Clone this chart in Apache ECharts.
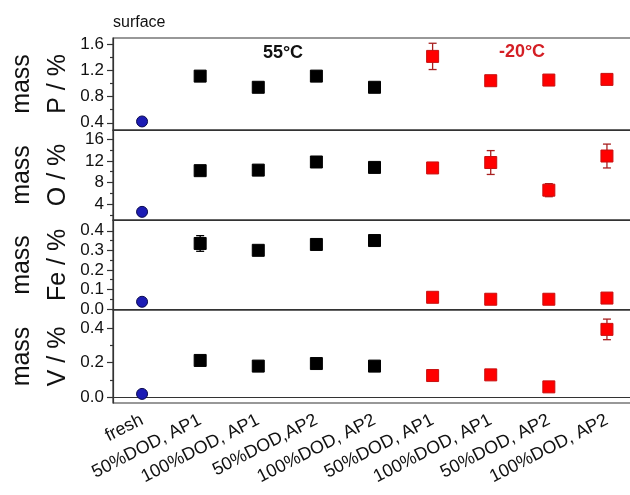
<!DOCTYPE html>
<html>
<head>
<meta charset="utf-8">
<script src="https://cdn.jsdelivr.net/npm/echarts@6/dist/echarts.min.js"></script>
<style>
  html, body { margin: 0; padding: 0; background: #fff; }
  #chart { width: 630px; height: 495px; }
</style>
</head>
<body>
<div id="chart"></div>
<script>
// 样品类别
const categories = ['fresh', '50%DOD, AP1', '100%DOD, AP1', '50%DOD,AP2', '100%DOD, AP2',
    '50%DOD, AP1', '100%DOD, AP1', '50%DOD, AP2', '100%DOD, AP2'];

// 各元素质量分数 (fresh, 55°C x4, -20°C x4)
const pValues = [0.42, 1.11, 0.94, 1.11, 0.94, 1.41, 1.04, 1.05, 1.06];
const pErrors = [0.02, 0.06, 0.02, 0.04, 0.02, 0.20, 0.02, 0.02, 0.02];
const oValues = [2.6, 10.2, 10.3, 11.8, 10.8, 10.7, 11.7, 6.6, 12.9];
const oErrors = [0.4, 0.5, 0.3, 0.4, 0.3, 0.8, 2.2, 1.2, 2.2];
const feValues = [0.037, 0.335, 0.30, 0.33, 0.35, 0.06, 0.05, 0.05, 0.056];
const feErrors = [0.01, 0.04, 0.01, 0.01, 0.01, 0.015, 0.01, 0.01, 0.01];
const vValues = [0.018, 0.213, 0.18, 0.195, 0.18, 0.125, 0.129, 0.059, 0.394];
const vErrors = [0.01, 0.02, 0.01, 0.01, 0.01, 0.01, 0.01, 0.01, 0.06];

// 刻度
const pTicks = [0.4, 0.8, 1.2, 1.6];
const pMinor = [0.6, 1.0, 1.4];
const oTicks = [4, 8, 12, 16];
const oMinor = [2, 6, 10, 14];
const feTicks = [0.0, 0.1, 0.2, 0.3, 0.4];
const feMinor = [0.05, 0.15, 0.25, 0.35];
const vTicks = [0.0, 0.2, 0.4];
const vMinor = [0.1, 0.3];

const FONT = '"Liberation Sans", Arial, sans-serif';
const AXIS_COLOR = '#333';

document.addEventListener('DOMContentLoaded', function () {
    initChart();
});

function initChart() {
    const chartDom = document.getElementById('chart');
    const myChart = echarts.init(chartDom);

    const panels = [
        { name: 'mass\nP / %', values: pValues, errors: pErrors, ticks: pTicks, minor: pMinor, min: 0.29, max: 1.69, top: 38, height: 92, fmt: v => v.toFixed(1) },
        { name: 'mass\nO / %', values: oValues, errors: oErrors, ticks: oTicks, minor: oMinor, min: 1.1, max: 17.7, top: 130, height: 90, fmt: v => String(v) },
        { name: 'mass\nFe / %', values: feValues, errors: feErrors, ticks: feTicks, minor: feMinor, min: -0.005, max: 0.455, top: 220, height: 90, fmt: v => v.toFixed(1) },
        { name: 'mass\nV / %', values: vValues, errors: vErrors, ticks: vTicks, minor: vMinor, min: -0.035, max: 0.507, top: 310, height: 93, fmt: v => v.toFixed(1) }
    ];

    const groups = [
        { idx: [0], symbol: 'circle', size: 11, color: '#1c1cb4', border: '#0a0a50', err: '#0a0a50' },
        { idx: [1, 2, 3, 4], symbol: 'rect', size: 12, color: '#000', border: '#000', err: '#000' },
        { idx: [5, 6, 7, 8], symbol: 'rect', size: 12, color: '#ff0000', border: '#c81010', err: '#a82020' }
    ];

    const grid = [], xAxis = [], yAxis = [], series = [];

    panels.forEach(function (p, k) {
        grid.push({
            left: 113, right: -6, top: p.top, height: p.height,
            show: true, borderColor: AXIS_COLOR, borderWidth: 1.2,
            outerBoundsMode: 'none'
        });
        // 主刻度 x 轴
        xAxis.push({
            type: 'category', gridIndex: k, data: categories, position: 'bottom',
            axisLine: { lineStyle: { color: AXIS_COLOR, width: 1.2 } },
            axisTick: { alignWithLabel: true, length: 5, lineStyle: { color: AXIS_COLOR, width: 1.2 } },
            axisLabel: {
                show: k === 3, rotate: 27, margin: 16, interval: 0,
                fontSize: 18, fontFamily: FONT, color: '#111'
            },
            splitLine: { show: false }
        });
        // 次刻度 x 轴
        xAxis.push({
            type: 'category', gridIndex: k, data: categories, position: 'bottom',
            axisLine: { show: false },
            axisTick: { length: 3, lineStyle: { color: AXIS_COLOR, width: 1.2 } },
            axisLabel: { show: false },
            splitLine: { show: false }
        });
        yAxis.push({
            type: 'value', gridIndex: k, position: 'left', min: p.min, max: p.max,
            name: p.name, nameLocation: 'middle', nameRotate: 90, nameGap: 37,
            nameMoveOverlap: false,
            nameTextStyle: { fontSize: 25, lineHeight: 36, fontFamily: FONT, color: '#111' },
            axisLine: { show: true, lineStyle: { color: AXIS_COLOR, width: 1.2 } },
            axisTick: { show: true, length: 6, customValues: p.ticks, lineStyle: { color: AXIS_COLOR, width: 1.2 } },
            axisLabel: {
                customValues: p.ticks, formatter: p.fmt, margin: 9,
                fontSize: 17, fontFamily: FONT, color: '#111'
            },
            splitLine: { show: false }
        });
        yAxis.push({
            type: 'value', gridIndex: k, position: 'left', min: p.min, max: p.max,
            axisLine: { show: false },
            axisTick: { show: true, length: 3, customValues: p.minor, lineStyle: { color: AXIS_COLOR, width: 1.2 } },
            axisLabel: { show: false },
            splitLine: { show: false }
        });

        groups.forEach(function (g) {
            // 误差棒
            series.push({
                type: 'custom', xAxisIndex: 2 * k, yAxisIndex: 2 * k, z: 2,
                data: g.idx.map(i => [i, p.values[i], p.errors[i]]),
                renderItem: function (params, api) {
                    const x = api.value(0), y = api.value(1), e = api.value(2);
                    const t = api.coord([x, y + e]);
                    const b = api.coord([x, y - e]);
                    const hw = 4;
                    const st = { stroke: g.err, lineWidth: 1.3 };
                    return {
                        type: 'group', children: [
                            { type: 'line', shape: { x1: t[0], y1: t[1], x2: b[0], y2: b[1] }, style: st },
                            { type: 'line', shape: { x1: t[0] - hw, y1: t[1], x2: t[0] + hw, y2: t[1] }, style: st },
                            { type: 'line', shape: { x1: b[0] - hw, y1: b[1], x2: b[0] + hw, y2: b[1] }, style: st }
                        ]
                    };
                }
            });
            series.push({
                type: 'scatter', xAxisIndex: 2 * k, yAxisIndex: 2 * k, z: 3,
                symbol: g.symbol, symbolSize: g.size,
                itemStyle: { color: g.color, borderColor: g.border, borderWidth: 1, opacity: 1 },
                data: g.idx.map(i => [i, p.values[i]])
            });
        });
    });

    const option = {
        backgroundColor: '#fff',
        animation: false,
        grid: grid,
        xAxis: xAxis,
        yAxis: yAxis,
        series: series,
        graphic: [
            { type: 'text', left: 113, top: 15, style: { text: 'surface', fontSize: 16, fontFamily: FONT, fill: '#111' } },
            { type: 'text', x: 283, y: 53, style: { text: '55°C', fontSize: 18, fontWeight: 'bold', fontFamily: FONT, fill: '#111', align: 'center', verticalAlign: 'middle' } },
            { type: 'text', x: 522, y: 52, style: { text: '-20°C', fontSize: 18, fontWeight: 'bold', fontFamily: FONT, fill: '#d41f25', align: 'center', verticalAlign: 'middle' } }
        ]
    };

    myChart.setOption(option);

    window.addEventListener('resize', function () {
        myChart.resize();
    });
}
</script>
</body>
</html>
